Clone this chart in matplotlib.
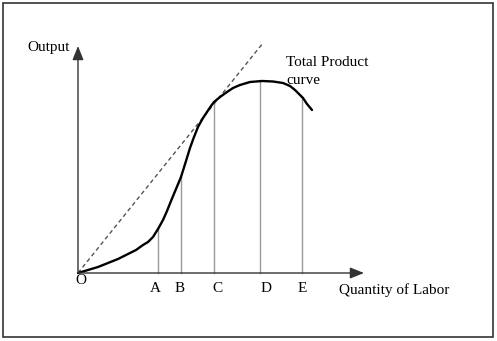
import matplotlib
matplotlib.use("Agg")
import matplotlib.pyplot as plt
from matplotlib.patches import Rectangle

plt.rcParams['font.family'] = ['Liberation Serif', 'DejaVu Serif']

# total product curve (labor, output)
labor = [0, 10, 20, 30, 40, 50, 58, 65, 70, 75, 80, 85, 89, 93, 98, 103,
         108, 112, 116, 120, 125, 129, 133, 136, 142, 149, 155, 162, 172,
         184, 195, 205, 212, 217, 221, 225, 229, 234]
output = [0, 3, 6, 10, 14, 19, 23, 28, 31, 36, 44, 53, 62, 72, 84, 96,
          112, 125, 136, 146, 155, 161, 167, 171, 176, 181, 185, 188, 191,
          192, 191.5, 190, 187, 183, 179, 175, 169, 163]

# ray from the origin tangent to the curve
ray_x = [0, 185]
ray_y = [0, 230]

# marked quantities of labor
points = ['A', 'B', 'C', 'D', 'E']
point_x = [80, 103, 136, 182, 224]
point_y = [44, 96, 171, 192, 176]
label_x = [77, 102, 139, 188, 224]

fig = plt.figure(figsize=(4.97, 3.41), dpi=100)
ax = fig.add_axes([0, 0, 1, 1])
ax.set_xlim(-78, 419)
ax.set_ylim(-68, 273)
ax.axis('off')

# border around the whole diagram
fig.patches.append(Rectangle((3 / 497, 4 / 341), 490 / 497, 334 / 341,
                             transform=fig.transFigure, fill=False,
                             ec='#333333', lw=1.2))

# axes with arrowheads
arrow = dict(arrowstyle='-|>,head_length=0.7,head_width=0.28',
             color='#333333', lw=1, shrinkA=0, shrinkB=0, mutation_scale=12)
ax.annotate('', xy=(0, 227), xytext=(0, 0), arrowprops=arrow)
ax.annotate('', xy=(286, 0), xytext=(0, 0), arrowprops=arrow)

# vertical drop lines
for x, y in zip(point_x, point_y):
    ax.plot([x, x], [0, y], color='#999999', lw=1, zorder=1)

ax.plot(ray_x, ray_y, color='#555555', lw=1, dashes=(3, 2.2))
ax.plot(labor, output, color='black', lw=1.7, solid_capstyle='round',
        solid_joinstyle='round')

fs = 11
for name, x in zip(points, label_x):
    ax.text(x, -15, name, ha='center', va='center', fontsize=fs)
ax.text(3, -8, 'O', ha='center', va='center', fontsize=fs)
ax.text(-51, 225, 'Output', ha='left', va='center', fontsize=fs)
ax.text(261, -17, 'Quantity of Labor', ha='left', va='center', fontsize=fs)
ax.text(208, 211, 'Total Product', ha='left', va='center', fontsize=fs)
ax.text(208, 193, 'curve', ha='left', va='center', fontsize=fs)

fig.savefig('out.png', dpi=100, facecolor='white')
